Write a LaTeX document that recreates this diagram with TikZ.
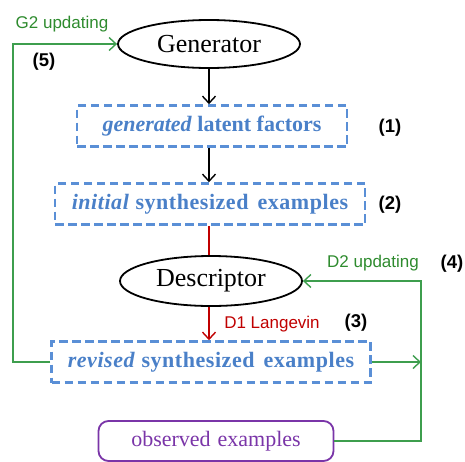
\documentclass[tikz,border=0pt]{standalone}
\usepackage{fontspec}
\setmainfont{Liberation Serif}
\newfontfamily\lsans{Liberation Sans}
\usetikzlibrary{shapes.geometric,arrows.meta}
\definecolor{bblue}{HTML}{5A8FD6}
\definecolor{tblue}{HTML}{4A80C8}
\definecolor{ggreen}{HTML}{3E9E4E}
\definecolor{tgreen}{HTML}{2E8B2E}
\definecolor{rred}{HTML}{C00000}
\definecolor{ppurple}{HTML}{7A35A8}
\newcommand{\wsp}{\addfontfeatures{LetterSpace=2.5}}
\begin{document}
\begin{tikzpicture}[x=1pt,y=-1pt,
  ell/.style={ellipse,draw=black,line width=1.8pt,minimum width=182pt,minimum height=48pt,inner sep=0pt,font=\fontsize{26}{28}\selectfont},
  dbox/.style={rectangle,draw=bblue,line width=2.6pt,dash pattern=on 8.5pt off 4.5pt,minimum height=41pt,inner sep=0pt,text=tblue,font=\fontsize{22}{24}\selectfont\bfseries},
  obox/.style={rectangle,rounded corners=10pt,draw=ppurple,line width=1.8pt,minimum width=235pt,minimum height=40pt,inner sep=0pt,text=ppurple,font=\fontsize{22}{24}\selectfont},
  num/.style={font=\lsans\fontsize{18.5}{20}\selectfont\bfseries},
  glab/.style={font=\lsans\fontsize{17}{19}\selectfont,text=tgreen},
  tip/.style={-{Straight Barb[length=7pt,width=13pt,line width=1.4pt]}},
  garr/.style={draw=ggreen,line width=1.9pt,tip},
]
\useasboundingbox (0,0) rectangle (465,461);
\node[ell] (gen) at (209,44) {Generator};
\node[dbox,minimum width=270pt] (lat) at (212,126) {\textit{generated} latent factors};
\node[dbox,minimum width=310pt] (init) at (210,204) {\wsp\textit{initial} synthesized\hspace{9pt}examples};
\node[ell,minimum height=50pt] (desc) at (211,281) {Descriptor};
\node[dbox,minimum width=319pt] (rev) at (211,362) {\wsp\textit{revised} synthesized\hspace{9pt}examples};
\node[obox] (obs) at (216,441) {observed\hspace{7pt}examples};

\coordinate (gl) at (13,362);
\coordinate (gr) at (421,362);

\draw[line width=1.7pt,tip] (gen.south) -- (gen.south |- lat.north);
\draw[line width=1.7pt,tip] (lat.south -| gen.south) -- (gen.south |- init.north);
\draw[line width=1.7pt,draw=rred] (init.south -| gen.south) -- (gen.south |- desc.north);
\draw[line width=1.7pt,draw=rred,tip] (desc.south -| gen.south) -- (gen.south |- rev.north);

\draw[garr] (rev.west) -- (rev.west -| gl) |- (gen.west);
\draw[garr] (rev.east) -- (rev.east -| gr);
\draw[garr] (obs.east) -- (obs.east -| gr) |- (desc.east);

\node[glab] (g2) at (62,24) {G2 updating};
\node[glab] (d2) at (373,263) {D2 updating};
\node[glab,text=rred] (d1) at (272,324) {D1 Langevin};
\node[num] (n5) at (44,62) {(5)};
\node[num] (n1) at (390,128) {(1)};
\node[num] (n2) at (390,205) {(2)};
\node[num] (n3) at (356,323) {(3)};
\node[num] (n4) at (452,264) {(4)};
\end{tikzpicture}
\end{document}
